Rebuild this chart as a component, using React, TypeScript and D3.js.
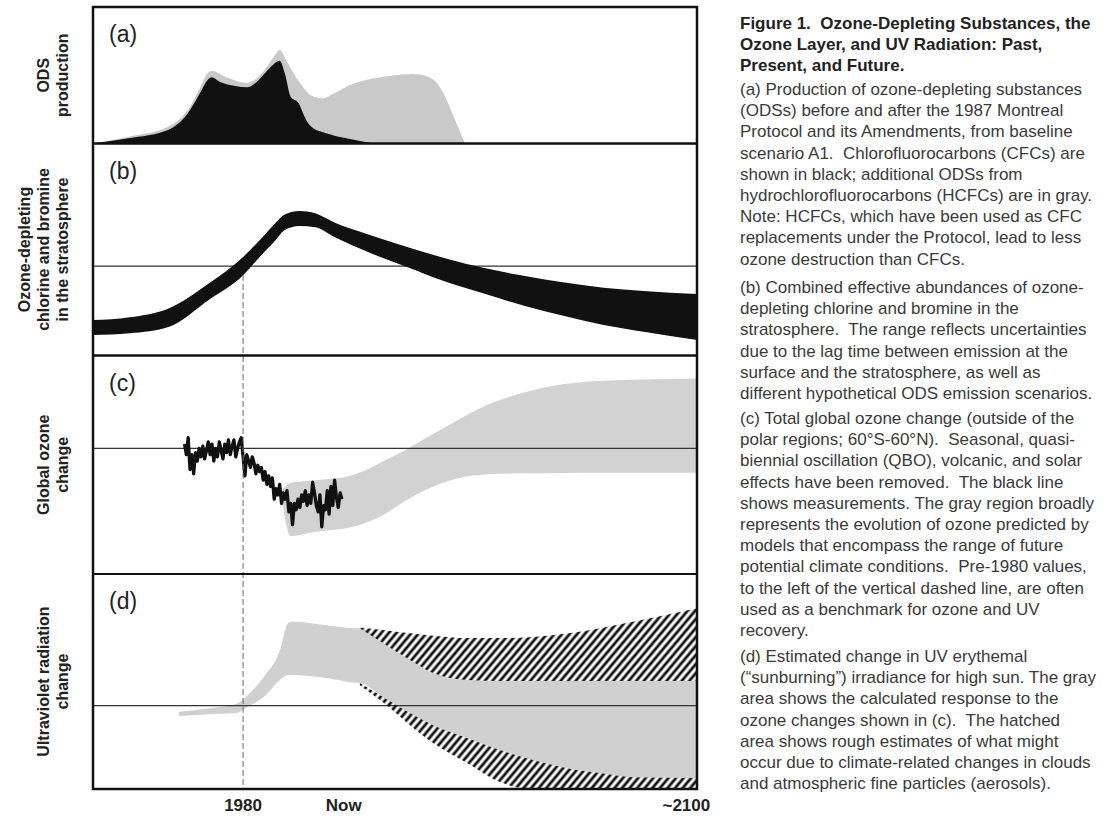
import React from "react";
import * as d3 from "d3";

// ---------- axis ----------
const X_DOMAIN: [number, number] = [1939, 2104];
const TICK_YEARS = [1980, 2007.5, 2100];
const TICK_LABELS = ["1980", "Now", "~2100"];
const REF_YEAR = 1980;

// ---------- (a) ODS production ----------
const cfcYears = [1939, 1948.7, 1959.5, 1964.9, 1968.2, 1970.3, 1971.4, 1973.6, 1977.9, 1981.1, 1983.3, 1985.5, 1987.6, 1990, 1991.4, 1993, 1995.2, 1996.8, 1998.4, 2002.7, 2008.2, 2015.7];
const cfcValues = [0, 3.8, 9.9, 22.1, 36.8, 46.5, 48.5, 45.3, 42.1, 41.2, 44.1, 50.2, 56.3, 60.7, 51.4, 34.3, 29.5, 19.6, 12.8, 7.5, 3.8, 0];
const odsYears = [1939, 1948.7, 1959.5, 1964.9, 1968.2, 1970.3, 1971.4, 1974.7, 1981.1, 1985.5, 1988.7, 1990, 1992, 1994.1, 1996.3, 1998.4, 2001.7, 2004.9, 2009.2, 2013.6, 2020, 2026.5, 2030.9, 2033, 2035.2, 2037.9, 2040.6];
const odsValues = [0, 5, 12.3, 24.5, 40.4, 51.4, 53.3, 49.5, 44.5, 52.6, 64.8, 68.5, 59.9, 50.2, 41.6, 35.5, 33.1, 36.8, 42.9, 46.5, 49.5, 50.9, 48.5, 44.1, 34.3, 17.2, 0];

// ---------- (b) chlorine & bromine ----------
const bYears = [1939, 1949, 1959.8, 1970.6, 1980.1, 1984.6, 1988.9, 1991.1, 1995.4, 1999.7, 2005.1, 2013.8, 2024.6, 2035.4, 2046.2, 2057, 2067.8, 2078.5, 2089.4, 2104];
const bUpper = [16.7, 18, 22.3, 34, 46.6, 54.5, 62.6, 66.3, 68.2, 67.1, 62.6, 57.3, 51.3, 45.8, 41.1, 37.5, 34.4, 32, 30.4, 29];
const bLower = [9.7, 10.5, 13.6, 26.2, 38, 46.6, 54.5, 58.9, 61.1, 60.5, 55.8, 49, 41.9, 34.8, 29, 23.3, 18.6, 14.4, 11.2, 7.3];
const bRef = 42.2;
const bDashStart = 38;

// ---------- (c) global ozone ----------
const cYears = [1990.5, 1993, 1998.4, 2002.7, 2008.2, 2013.6, 2019, 2024.4, 2029.8, 2035.2, 2040.6, 2046, 2056.8, 2067.6, 2078.4, 2089.2, 2104];
const cUpper = [-20, -16.2, -15.3, -14.6, -13.4, -10.2, -5.5, -0.8, 4.7, 9.9, 15.3, 20, 26.3, 30.3, 31.9, 32.5, 33];
const cLower = [-23, -41.4, -39.8, -38.8, -37.7, -35.1, -30.7, -24.7, -19.7, -15.9, -13.4, -12.3, -11.8, -11.6, -11.5, -11.5, -11.5];
const measStart = 1964;
const measStep = 0.5;
const measValues = [2, -3, 5, -10, -3, -12, -2, -6, 0, -4, 1, -5, -1, 3, -3, 2, -6, 0, -4, 3, -1, -5, 2, -2, 4, -3, 1, 4, -4, 0, 3, 5, -4, -13, -3, -6, -9, -4, -7, -12, -8, -11, -9, -15, -11, -17, -13, -18, -14, -24, -19, -22, -17, -26, -21, -24, -20, -30, -26, -36, -26, -29, -24, -28, -22, -25, -20, -27, -22, -26, -16, -21, -27, -30, -22, -37, -27, -29, -20, -31, -18, -27, -15, -23, -28, -21, -24];

// ---------- (d) UV ----------
const dYears = [1962.5, 1970.6, 1978.1, 1981.3, 1985.7, 1990.1, 1992.2, 1993.3, 2002.9, 2010.6, 2011.9, 2018.2, 2025.6, 2031.9, 2041.2, 2050.2, 2059.2, 2068.5, 2077.5, 2086.5, 2104];
const dUpper = [-2.9, -1.3, 0.7, 4.9, 13.4, 25.8, 38.2, 39, 37.4, 36, 36, 29.1, 21.2, 15.1, 11.9, 11.4, 11.4, 11.4, 11.4, 11.4, 11.4];
const dLower = [-4.9, -4.0, -3.5, -0.6, 4.1, 11.9, 14.2, 14.2, 12.8, 10.6, 10.5, 4, -3.5, -9.1, -15.1, -20.7, -25.3, -29.1, -31.4, -33.3, -33.7];
const hYears = [2011.9, 2018.2, 2025.6, 2031.9, 2041.2, 2050.2, 2059.2, 2068.5, 2077.5, 2086.5, 2104];
const hUpperTop = [36.3, 35.2, 33.6, 32.5, 31.4, 31.4, 31.9, 33.5, 36, 39, 45.3];
const hUpperBottom = [36, 29.1, 21.2, 15.1, 11.9, 11.4, 11.4, 11.4, 11.4, 11.4, 11.4];
const hLowerTop = [10.5, 4, -3.5, -9.1, -15.1, -20.7, -25.3, -29.1, -31.4, -33.3, -33.7];
const hLowerBottom = [9.5, 1.5, -9.1, -17.4, -26.7, -35.6, -38.8, -38.8, -38.8, -38.8, -38.8];

// ---------- texts ----------
const panelLetters = ["(a)", "(b)", "(c)", "(d)"];
const sideLabels = [
  ["ODS", "production"],
  ["Ozone-depleting", "chlorine and bromine", "in the stratosphere"],
  ["Global ozone", "change"],
  ["Ultraviolet radiation", "change"],
];
const titleLines = [
  "Figure 1.  Ozone-Depleting Substances, the",
  "Ozone Layer, and UV Radiation: Past,",
  "Present, and Future.",
];
const paraA = [
  "(a) Production of ozone-depleting substances",
  "(ODSs) before and after the 1987 Montreal",
  "Protocol and its Amendments, from baseline",
  "scenario A1.  Chlorofluorocarbons (CFCs) are",
  "shown in black; additional ODSs from",
  "hydrochlorofluorocarbons (HCFCs) are in gray.",
  "Note: HCFCs, which have been used as CFC",
  "replacements under the Protocol, lead to less",
  "ozone destruction than CFCs.",
];
const paraB = [
  "(b) Combined effective abundances of ozone-",
  "depleting chlorine and bromine in the",
  "stratosphere.  The range reflects uncertainties",
  "due to the lag time between emission at the",
  "surface and the stratosphere, as well as",
  "different hypothetical ODS emission scenarios.",
];
const paraC = [
  "(c) Total global ozone change (outside of the",
  "polar regions; 60°S-60°N).  Seasonal, quasi-",
  "biennial oscillation (QBO), volcanic, and solar",
  "effects have been removed.  The black line",
  "shows measurements. The gray region broadly",
  "represents the evolution of ozone predicted by",
  "models that encompass the range of future",
  "potential climate conditions.  Pre-1980 values,",
  "to the left of the vertical dashed line, are often",
  "used as a benchmark for ozone and UV",
  "recovery.",
];
const paraD = [
  "(d) Estimated change in UV erythemal",
  "(\u201Csunburning\u201D) irradiance for high sun. The gray",
  "area shows the calculated response to the",
  "ozone changes shown in (c).  The hatched",
  "area shows rough estimates of what might",
  "occur due to climate-related changes in clouds",
  "and atmospheric fine particles (aerosols).",
];

const FONT = "'Liberation Sans', Arial, Helvetica, sans-serif";

export default function App() {
  const L = 93, R = 697;
  const P = [
    [7, 143.5],
    [143.5, 355.5],
    [355.5, 574],
    [574, 789],
  ];
  const x = d3.scaleLinear().domain(X_DOMAIN).range([L, R]);
  const yA = d3.scaleLinear().domain([0, 100]).range([P[0][1], P[0][0]]);
  const yB = d3.scaleLinear().domain([0, 100]).range([P[1][1], P[1][0]]);
  const yC = d3.scaleLinear().domain([-59.3, 43.8]).range([P[2][1], P[2][0]]);
  const yD = d3.scaleLinear().domain([-38.8, 61.2]).range([P[3][1], P[3][0]]);

  const band = (years: number[], up: number[], lo: number[], y: any, curve: any) =>
    d3
      .area<number>()
      .x((i) => x(years[i]))
      .y0((i) => y(lo[i]))
      .y1((i) => y(up[i]))
      .curve(curve)(d3.range(years.length)) || "";

  const zerosOds = odsValues.map(() => 0);
  const zerosCfc = cfcValues.map(() => 0);

  const measLine =
    d3
      .line<number>()
      .x((_, i) => x(measStart + i * measStep))
      .y((v) => yC(v))
      .curve(d3.curveLinear)(measValues) || "";

  const gray = "#c9c9c9";

  const paragraphs: { lines: string[]; start: number; bold?: boolean }[] = [
    { lines: titleLines, start: 29, bold: true },
    { lines: paraA, start: 95 },
    { lines: paraB, start: 293 },
    { lines: paraC, start: 424 },
    { lines: paraD, start: 662 },
  ];

  const labelCenters = [
    [43, 62],
    [24, 43, 62],
    [43, 62],
    [43, 62],
  ];

  return (
    <svg
      width={1109}
      height={817}
      style={{ position: "absolute", left: 0, top: 0, background: "#fff" }}
      fontFamily={FONT}
    >
      <defs>
        <pattern id="hatch" patternUnits="userSpaceOnUse" width="5.8" height="10" patternTransform="rotate(40)">
          <line x1="2.9" y1="-1" x2="2.9" y2="11" stroke="#111" strokeWidth="2.8" />
        </pattern>
        {P.map((p, i) => (
          <clipPath id={`clip${i}`} key={i}>
            <rect x={L} y={p[0]} width={R - L} height={p[1] - p[0]} />
          </clipPath>
        ))}
      </defs>
      <rect x={0} y={0} width={1109} height={817} fill="#fff" />

      {/* (a) */}
      <g clipPath="url(#clip0)">
        <path d={band(odsYears, odsValues, zerosOds, yA, d3.curveMonotoneX)} fill={gray} />
        <path d={band(cfcYears, cfcValues, zerosCfc, yA, d3.curveMonotoneX)} fill="#111" />
      </g>

      {/* (b) */}
      <g clipPath="url(#clip1)">
        <line x1={L} x2={R} y1={yB(bRef)} y2={yB(bRef)} stroke="#333" strokeWidth={1.3} />
        <path d={band(bYears, bUpper, bLower, yB, d3.curveMonotoneX)} fill="#111" />
      </g>

      {/* (c) */}
      <g clipPath="url(#clip2)">
        <path d={band(cYears, cUpper, cLower, yC, d3.curveMonotoneX)} fill="#d2d2d2" />
        <line x1={L} x2={R} y1={yC(0)} y2={yC(0)} stroke="#333" strokeWidth={1.3} />
        <path d={measLine} fill="none" stroke="#111" strokeWidth={3.3} strokeLinejoin="round" />
      </g>

      {/* (d) */}
      <g clipPath="url(#clip3)">
        <path d={band(dYears, dUpper, dLower, yD, d3.curveMonotoneX)} fill="#d0d0d0" />
        <line x1={L} x2={R} y1={yD(0)} y2={yD(0)} stroke="#333" strokeWidth={1.3} />
        <path d={band(hYears, hUpperTop, hUpperBottom, yD, d3.curveMonotoneX)} fill="url(#hatch)" />
        <path d={band(hYears, hLowerTop, hLowerBottom, yD, d3.curveMonotoneX)} fill="url(#hatch)" />
      </g>

      {/* dashed 1980 line */}
      <line
        x1={x(REF_YEAR)}
        x2={x(REF_YEAR)}
        y1={yB(bDashStart)}
        y2={P[3][1]}
        stroke="#666"
        strokeWidth={1}
        strokeDasharray="6,3"
      />

      {/* panel frames */}
      {P.map((p, i) => (
        <rect key={i} x={L} y={p[0]} width={R - L} height={p[1] - p[0]} fill="none" stroke="#111" strokeWidth={2} />
      ))}
      <rect x={L} y={P[0][0]} width={R - L} height={P[3][1] - P[0][0]} fill="none" stroke="#111" strokeWidth={2.5} />

      {/* panel letters */}
      {P.map((p, i) => (
        <text key={i} x={109} y={p[0] + 35} fontSize={23} fill="#222">
          {panelLetters[i]}
        </text>
      ))}

      {/* side labels */}
      {sideLabels.map((lines, i) => {
        const cy = (P[i][0] + P[i][1]) / 2;
        return lines.map((t, j) => (
          <text
            key={`${i}-${j}`}
            transform={`translate(${labelCenters[i][j] + 6},${cy}) rotate(-90)`}
            textAnchor="middle"
            fontSize={16}
            fontWeight="bold"
            fill="#222"
          >
            {t}
          </text>
        ));
      })}

      {/* x tick labels */}
      {TICK_YEARS.map((yr, i) => (
        <text
          key={i}
          x={x(yr) + (i === 2 ? 4 : 0)}
          y={811}
          textAnchor="middle"
          fontSize={17}
          fontWeight="bold"
          fill="#222"
        >
          {TICK_LABELS[i]}
        </text>
      ))}

      {/* caption */}
      {paragraphs.map((para, pi) =>
        para.lines.map((t, li) => (
          <text
            key={`${pi}-${li}`}
            x={740}
            y={para.start + li * (para.bold ? 21 : 21.2)}
            fontSize={17}
            fontWeight={para.bold ? "bold" : "normal"}
            fill={para.bold ? "#222" : "#3a3a3a"}
            style={{ whiteSpace: "pre" }}
          >
            {t}
          </text>
        ))
      )}
    </svg>
  );
}
